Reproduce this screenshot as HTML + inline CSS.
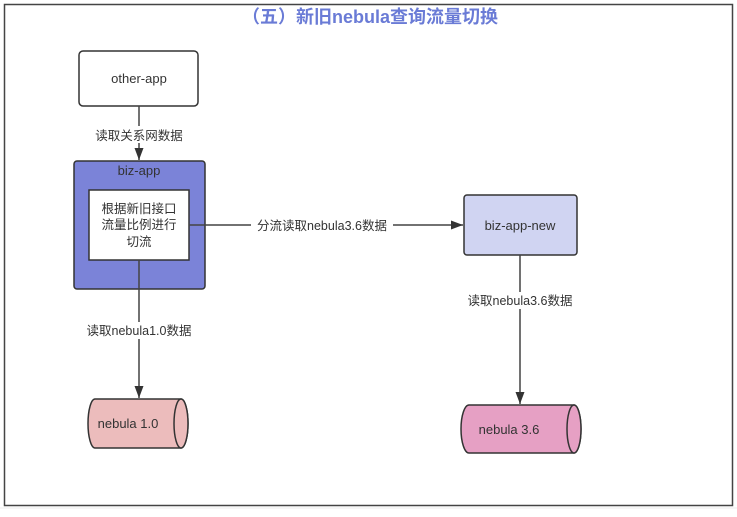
<!DOCTYPE html>
<html><head><meta charset="utf-8"><style>
body{margin:0;width:737px;height:512px;background:#fff;overflow:hidden}
svg text{font-family:"Liberation Sans","Noto Sans CJK SC",sans-serif}
</style></head><body>
<svg width="737" height="512" viewBox="0 0 737 512">
<defs><marker id="a" viewBox="0 0 12 10" refX="12" refY="5" markerWidth="12" markerHeight="10" markerUnits="userSpaceOnUse" orient="auto"><path d="M0,0.5 L12,5 L0,9.5z" fill="#333"/></marker></defs>
<line x1="0" y1="508" x2="737" y2="508" stroke="#eee"/>
<rect x="4.5" y="4.5" width="728" height="501" fill="#fff" stroke="#444" stroke-width="1.5"/>
<text x="370" y="23" text-anchor="middle" font-size="18" font-weight="bold" fill="#6a7bd6">（五）新旧nebula查询流量切换</text>
<rect x="79" y="51" width="119" height="55" rx="4" fill="#fff" stroke="#333" stroke-width="1.5"/>
<text x="139" y="83" text-anchor="middle" font-size="13" fill="#333">other-app</text>
<line x1="139" y1="106" x2="139" y2="160" stroke="#444" stroke-width="1.5" marker-end="url(#a)"/>
<rect x="86" y="126" width="106" height="17" fill="#fff"/>
<text x="139" y="140" text-anchor="middle" font-size="12.5" fill="#333">读取关系网数据</text>
<rect x="74" y="161" width="131" height="128" rx="3" fill="#7b83d8" stroke="#333" stroke-width="1.5"/>
<text x="139" y="175" text-anchor="middle" font-size="13" fill="#333">biz-app</text>
<rect x="89" y="190" width="100" height="70" fill="#fff" stroke="#333" stroke-width="1.5"/>
<text x="139" y="213" text-anchor="middle" font-size="12.5" fill="#333">根据新旧接口</text>
<text x="139" y="229" text-anchor="middle" font-size="12.5" fill="#333">流量比例进行</text>
<text x="139" y="246" text-anchor="middle" font-size="12.5" fill="#333">切流</text>
<line x1="189" y1="225" x2="463" y2="225" stroke="#444" stroke-width="1.5" marker-end="url(#a)"/>
<rect x="251" y="217" width="142" height="17" fill="#fff"/>
<text x="322" y="230" text-anchor="middle" font-size="12.5" fill="#333">分流读取nebula3.6数据</text>
<rect x="464" y="195" width="113" height="60" rx="3" fill="#d0d4f2" stroke="#333" stroke-width="1.5"/>
<text x="520" y="230" text-anchor="middle" font-size="13" fill="#333">biz-app-new</text>
<line x1="520" y1="255" x2="520" y2="404" stroke="#444" stroke-width="1.5" marker-end="url(#a)"/>
<rect x="462" y="292" width="116" height="17" fill="#fff"/>
<text x="520" y="305" text-anchor="middle" font-size="12.5" fill="#333">读取nebula3.6数据</text>
<line x1="139" y1="260" x2="139" y2="398" stroke="#444" stroke-width="1.5" marker-end="url(#a)"/>
<rect x="81" y="322" width="116" height="17" fill="#fff"/>
<text x="139" y="335" text-anchor="middle" font-size="12.5" fill="#333">读取nebula1.0数据</text>
<path d="M95,399 H181 A7,24.5 0 0 1 181,448 H95 A7,24.5 0 0 1 95,399z" fill="#ecbcbc" stroke="#333" stroke-width="1.5"/>
<ellipse cx="181" cy="423.5" rx="7" ry="24.5" fill="#ecbcbc" stroke="#333" stroke-width="1.5"/>
<text x="128" y="428" text-anchor="middle" font-size="13" fill="#333">nebula 1.0</text>
<path d="M469,405 H574 A7,24 0 0 1 574,453 H469 A8,24 0 0 1 469,405z" fill="#e6a0c4" stroke="#333" stroke-width="1.5"/>
<ellipse cx="574" cy="429" rx="7" ry="24" fill="#e6a0c4" stroke="#333" stroke-width="1.5"/>
<text x="509" y="434" text-anchor="middle" font-size="13" fill="#333">nebula 3.6</text>
</svg>
</body></html>
